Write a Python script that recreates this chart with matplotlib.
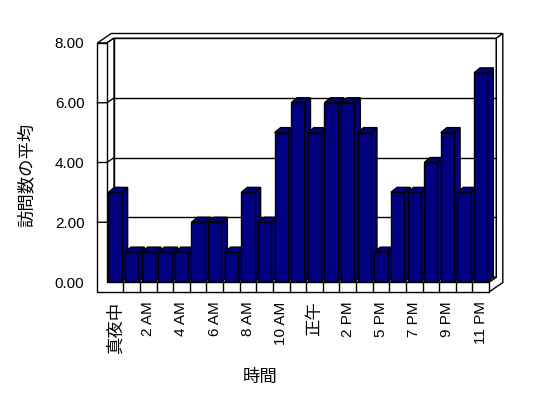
import numpy as np
import matplotlib
matplotlib.use('Agg')
import matplotlib.pyplot as plt
from matplotlib.patches import Polygon

plt.rcParams['font.family'] = ['Liberation Sans', 'Noto Sans CJK JP', 'DejaVu Sans']

# data
hours = ['真夜中', '1 AM', '2 AM', '3 AM', '4 AM', '5 AM', '6 AM', '7 AM', '8 AM',
         '9 AM', '10 AM', '11 AM', '正午', '1 PM', '2 PM', '3 PM', '5 PM', '6 PM',
         '7 PM', '8 PM', '9 PM', '10 PM', '11 PM']
visits = [3, 1, 1, 1, 1, 2, 2, 1, 3, 2, 5, 6, 5, 6, 6, 5, 1, 3, 3, 4, 5, 3, 7]
yticks = [0, 2, 4, 6, 8]
ylabel = '訪問数の平均'
xlabel = '時間'

navy = '#000080'
W, H = 548, 398
fig = plt.figure(figsize=(W / 100, H / 100), dpi=100)
fig.patch.set_facecolor('white')

# front plane of plot in pixels
px_l, px_r, px_b, px_t = 106.7, 489.0, 282.0, 43.0
ax = fig.add_axes([px_l / W, 1 - px_b / H, (px_r - px_l) / W, (px_b - px_t) / H])
n = len(visits)
x0, x1 = -0.5, n - 0.5
ymax = 8
ax.set_xlim(x0, x1)
ax.set_ylim(0, ymax)
for s in ax.spines.values():
    s.set_visible(False)
ax.set_facecolor('none')

cw = (px_r - px_l) / n          # px per category
vu = (px_b - px_t) / ymax       # px per unit
# depth offsets in data units
Dx, Dy = 7.3 / cw, 4.8 / vu       # front -> back wall
Tx, Ty = 6.5 / cw, 4.7 / vu       # back wall thickness
Wl = 9.3 / cw                     # left wall thickness
Fl = 10.0 / vu                    # floor thickness
bx, by = 6.0 / cw, 5.0 / vu       # bar depth

def poly(pts, z, fc='white'):
    p = Polygon(pts, closed=True, facecolor=fc, edgecolor='black', lw=1.0,
                zorder=z, clip_on=False, joinstyle='miter')
    ax.add_patch(p)

# back wall front face
poly([(x0 + Dx, Dy), (x1 + Dx, Dy), (x1 + Dx, ymax + Dy), (x0 + Dx, ymax + Dy)], 1)
for v in yticks[1:-1]:
    ax.plot([x0 + Dx, x1 + Dx], [v + Dy, v + Dy], color='black', lw=1, zorder=1.5, clip_on=False)
# top of walls
poly([(x0 - Wl, ymax), (x0, ymax), (x0 + Dx, ymax + Dy), (x1 + Dx, ymax + Dy),
      (x1 + Dx + Tx, ymax + Dy + Ty), (x0 - Wl + Dx + Tx, ymax + Dy + Ty)], 1)
# right side of back wall and floor
poly([(x1, -Fl), (x1, 0), (x1 + Dx, Dy), (x1 + Dx, ymax + Dy),
      (x1 + Dx + Tx, ymax + Dy + Ty), (x1 + Dx + Tx, -Fl + Dy + Ty)], 1)
# floor top
poly([(x0, 0), (x1, 0), (x1 + Dx, Dy), (x0 + Dx, Dy)], 1)
# left wall inner face
poly([(x0, 0), (x0, ymax), (x0 + Dx, ymax + Dy), (x0 + Dx, Dy)], 1)
# front faces of left wall and floor
poly([(x0 - Wl, -Fl), (x1, -Fl), (x1, 0), (x0, 0), (x0, ymax), (x0 - Wl, ymax)], 2)
for v in yticks[1:-1]:
    ax.plot([x0 - Wl, x0, x0 + Dx], [v, v, v + Dy], color='black', lw=1, zorder=2.5, clip_on=False)
for k in range(1, n):
    ax.plot([x0 + k, x0 + k], [0, -Fl], color='black', lw=1, zorder=2.5, clip_on=False)

# bars, painted left to right
bw = 0.8
for i, v in enumerate(visits):
    z = 3 + i * 0.1
    l, r = i - bw / 2, i + bw / 2
    poly([(r, 0), (r + bx, by), (r + bx, v + by), (r, v)], z, navy)
    poly([(l, v), (r, v), (r + bx, v + by), (l + bx, v + by)], z, navy)
    ax.bar(i, v, width=bw, color=navy, edgecolor='black', lw=1, zorder=z + 0.05)

ax.set_xticks(range(0, n, 2))
ax.set_xticklabels(hours[::2], rotation=90, va='top', ha='center')
ax.tick_params(axis='x', length=0, pad=14, labelsize=11)
for t in ax.get_xticklabels():
    if not t.get_text().isascii():
        t.set_fontsize(12.5)
ax.set_yticks(yticks)
ax.set_yticklabels(['%.2f' % v for v in yticks])
ax.tick_params(axis='y', length=0, pad=16, labelsize=11)

fig.text(26 / W, 1 - 175 / H, ylabel, rotation=90, ha='center', va='center', fontsize=12.5)
fig.text(260 / W, 1 - 377 / H, xlabel, ha='center', va='center', fontsize=12.5)

fig.savefig('out.png', dpi=100, facecolor='white')
